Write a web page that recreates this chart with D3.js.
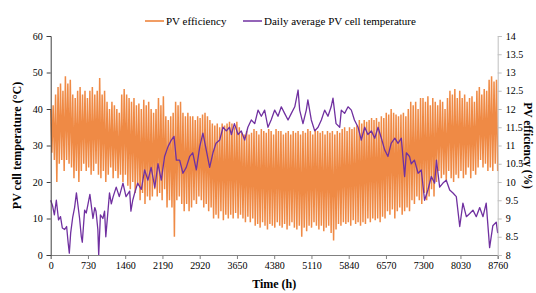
<!DOCTYPE html>
<html>
<head>
<meta charset="utf-8">
<script src="https://cdn.jsdelivr.net/npm/d3@7"></script>
<style>
  body { margin: 0; background: #fff; }
  text { font-family: "Liberation Serif", "Times New Roman", serif; }
</style>
</head>
<body>
<div id="chart"></div>
<script>
// x ticks (hours)
var timeTicks = [0, 730, 1460, 2190, 2920, 3650, 4380, 5110, 5840, 6570, 7300, 8030, 8760];
var tempTicks = [0, 10, 20, 30, 40, 50, 60];
var effTicks = [8, 8.5, 9, 9.5, 10, 10.5, 11, 11.5, 12, 12.5, 13, 13.5, 14];

// PV efficiency, read as one high/low swing per sample, every 2 days (day 0, 2, ... 364)
var effHigh = [12.0,12.1,12.4,12.6,12.7,12.5,12.9,12.7,12.8,12.4,12.3,12.5,12.6,12.4,12.5,12.3,12.5,12.6,12.4,12.5,
  12.85,12.4,12.5,12.2,12.0,12.2,12.1,12.0,11.9,12.4,12.55,12.4,12.3,12.2,12.3,12.1,12.15,12.0,12.25,12.1,
  12.2,12.0,11.9,12.0,12.3,12.1,12.35,11.8,11.7,11.8,11.9,12.2,12.1,12.2,11.9,11.8,11.9,11.8,11.8,11.7,
  11.8,11.75,11.85,11.9,11.8,11.7,11.6,11.55,11.6,11.5,11.6,11.55,11.6,11.65,11.6,11.5,11.65,11.5,11.35,11.3,
  11.4,11.3,11.35,11.45,11.4,11.3,11.45,11.4,11.35,11.45,11.4,11.3,11.45,11.4,11.4,11.3,11.35,11.4,11.3,11.4,
  11.35,11.4,11.3,11.4,11.35,11.45,11.4,11.3,11.45,11.4,11.35,11.4,11.3,11.4,11.35,11.4,11.3,11.4,11.35,11.45,
  11.5,11.4,11.5,11.45,11.5,11.55,11.7,11.6,11.7,11.65,11.7,11.75,11.7,11.75,11.65,11.8,11.75,11.9,11.85,12.0,
  11.9,11.85,11.8,11.85,11.9,11.8,12.0,12.2,12.1,12.2,12.0,12.3,12.3,12.2,12.35,12.1,12.3,12.2,12.1,12.25,
  12.2,12.0,12.3,12.5,12.4,12.55,12.3,12.5,12.3,12.4,12.2,12.3,12.35,12.2,12.5,12.6,12.4,12.55,12.5,12.8,
  12.9,12.75,12.8];
var effLow = [10.8,10.6,10.0,10.5,10.6,10.3,10.6,10.5,10.4,10.1,10.3,10.0,10.3,10.5,10.3,10.4,10.2,10.3,10.5,10.2,
  10.1,10.3,10.0,10.2,10.4,10.1,10.3,10.1,10.2,10.0,10.2,9.9,9.8,10.0,9.7,9.9,9.5,9.7,9.4,9.6,
  9.5,9.6,9.8,9.6,9.7,9.5,9.8,9.3,9.5,9.3,8.5,9.5,9.6,9.4,9.2,9.4,9.2,9.3,9.5,9.4,
  9.6,9.5,9.3,9.4,9.2,9.3,9.0,9.1,9.0,9.2,8.95,9.1,9.0,9.1,9.0,9.15,9.0,9.1,9.0,8.9,
  9.05,8.9,9.0,8.8,8.85,8.75,8.9,8.8,8.7,8.85,8.8,8.75,8.9,8.8,8.75,8.85,8.7,8.8,8.9,8.75,
  8.7,8.8,8.5,8.75,8.65,8.8,8.75,8.9,8.8,8.7,8.8,8.65,8.75,8.8,8.6,8.4,8.7,8.85,8.8,8.9,
  8.85,8.9,8.8,8.95,8.85,8.9,8.8,8.9,8.85,9.0,8.9,9.0,8.95,9.0,8.9,9.05,9.0,9.2,9.1,9.25,
  9.0,9.2,9.3,9.1,9.2,9.3,9.2,9.5,9.4,9.6,9.5,9.4,9.7,9.5,9.6,9.8,9.6,10.0,10.3,10.1,
  10.2,10.0,10.3,10.1,10.0,10.2,10.1,10.3,10.1,10.2,10.4,10.1,10.3,10.2,10.4,10.6,10.4,10.5,10.3,10.4,
  10.3,10.5,10.3];

// daily average PV cell temperature (day of year, degC)
var tempDays = [0,1.5,3,4.6,6.4,8,9.5,11.4,13,14.2,15.2,16.3,18,19.5,21,22.3,23.6,25,25.8,27.7,
  29,30.5,32,34.5,36,37,38.5,39.2,40.6,42.6,44,45,46.5,48,49.5,51,53.5,56,59,61.5,
  64.5,65.5,67,68.6,71,74,76.7,79.4,82,85,87.6,90.3,93,95.8,98.5,100.7,102.6,105.3,108,110.7,
  113.5,116,118.9,121.7,124.3,127,129.8,132.5,135,138,140.7,143.4,146,147.5,150,153,155.6,158.4,161,163.8,
  166.6,169.3,172,174.7,177.4,180,182.9,185.6,188.3,191,193.8,196.5,199.3,202,203.3,206,208.7,210,212.8,215.6,
  218.3,221,223.7,226.4,229,230.5,233,236,237.3,240,242.8,245.5,248,251,253.6,256.4,259,261.8,264.6,267.3,
  270,272.7,275.4,278,281,283.6,286.3,289,290.4,293,294.4,297,300,302.6,305.3,308,310.8,313.5,315,317.6,
  320.3,323,325.8,328.5,331.2,334,336.6,339.4,342,344.8,347.5,350.3,353,355.6,357.5,358.4,361,363.8,365];
var tempVals = [15,13.5,11,15,9.6,10.5,7.4,7,7.8,3.5,0.5,6,10.4,13,17,13.5,10,5,3.5,12.3,
  11.5,14,16.6,10,13,12,7,0,11,10,12,5,11,17,14,16,18.6,16,19.7,16,
  17.5,12,15,17,19.7,18,23.3,20.5,24,18.5,25,20.5,27,29.7,31.5,32.5,26,26,22.4,24,
  27,28,23.3,29.7,33.4,28.8,24,28,30.6,31.5,35,34,35,33,36,33,34,31.5,35,37,
  36,39.7,38,39.7,35,37,39.7,38,40.6,38.8,37,38.8,40.6,45.2,39.7,36,39.7,42.5,37,34,
  35,37,39.7,38,40.6,43,36,35,39.7,38.8,40.6,39.7,37,35,31.5,35,33,34,32,35,
  32,28.8,27,30.6,32,30.6,32,21.5,28,27,25,26,22.4,23.3,15,17.8,21.5,19.7,26,18.6,
  19.7,20.5,17.8,17,16,7.8,14.2,10.5,11.3,12.3,10.5,13,10.5,14.2,6,2,8,9,6];

var W = 536, H = 293;
var margin = {top: 36, right: 38.3, bottom: 38, left: 50.7};
var width = W - margin.left - margin.right;
var height = H - margin.top - margin.bottom;

var svg = d3.select("#chart").append("svg")
  .attr("width", W)
  .attr("height", H);

var g = svg.append("g")
  .attr("transform", "translate(" + margin.left + "," + margin.top + ")");

var x = d3.scaleLinear().domain([0, 8760]).range([0, width]);
var yT = d3.scaleLinear().domain([0, 60]).range([height, 0]);
var yE = d3.scaleLinear().domain([8, 14]).range([height, 0]);

// efficiency swings: high at start of each sample, low half way
var effPts = [];
effHigh.forEach(function(v, i) {
  var h0 = i * 48;
  effPts.push([h0, v]);
  effPts.push([h0 + 24, effLow[i]]);
});

var effLine = d3.line()
  .x(function(d) { return x(d[0]); })
  .y(function(d) { return yE(d[1]); });

g.append("path")
  .datum(effPts)
  .attr("d", effLine)
  .attr("fill", "none")
  .attr("stroke", "#ED7D31")
  .attr("stroke-opacity", 0.9)
  .attr("stroke-width", 1.5);

var tempLine = d3.line()
  .x(function(d, i) { return x(tempDays[i] * 24); })
  .y(function(d) { return yT(d); });

g.append("path")
  .datum(tempVals)
  .attr("d", tempLine)
  .attr("fill", "none")
  .attr("stroke", "#7030A0")
  .attr("stroke-width", 1.3)
  .attr("stroke-linejoin", "round");

// axes
var xAxis = g.append("g")
  .attr("transform", "translate(0," + height + ")")
  .call(d3.axisBottom(x).tickValues(timeTicks).tickFormat(d3.format("d")).tickSize(4).tickPadding(3));

var leftAxis = g.append("g")
  .call(d3.axisLeft(yT).tickValues(tempTicks).tickSize(4).tickPadding(4));

var rightAxis = g.append("g")
  .attr("transform", "translate(" + width + ",0)")
  .call(d3.axisRight(yE).tickValues(effTicks).tickFormat(d3.format("")).tickSize(4).tickPadding(4));

[xAxis, leftAxis, rightAxis].forEach(function(a) {
  a.attr("font-family", null).attr("font-size", null);
  a.selectAll("text")
    .style("font-family", "'Liberation Serif', serif")
    .style("font-size", "10px")
    .attr("fill", "#000");
});
xAxis.select(".domain").attr("stroke", "#808080");
xAxis.selectAll(".tick line").attr("stroke", "#808080");
leftAxis.select(".domain").attr("stroke", "#404040");
leftAxis.selectAll(".tick line").attr("stroke", "#404040");
rightAxis.select(".domain").attr("stroke", "#bfbfbf");
rightAxis.selectAll(".tick line").attr("stroke", "#bfbfbf");

// axis titles
svg.append("text")
  .attr("x", margin.left + width / 2)
  .attr("y", 288)
  .attr("text-anchor", "middle")
  .style("font-weight", "bold")
  .style("font-size", "12px")
  .text("Time (h)");

svg.append("text")
  .attr("transform", "translate(21," + (margin.top + height / 2) + ") rotate(-90)")
  .attr("text-anchor", "middle")
  .style("font-weight", "bold")
  .style("font-size", "12px")
  .text("PV cell temperature (°C)");

svg.append("text")
  .attr("transform", "translate(524," + (margin.top + height / 2) + ") rotate(90)")
  .attr("text-anchor", "middle")
  .style("font-weight", "bold")
  .style("font-size", "11.5px")
  .text("PV efficiency (%)");

// legend
var legend = [
  {name: "PV efficiency", color: "#ED7D31", x: 145},
  {name: "Daily average PV cell temperature", color: "#7030A0", x: 243}
];
var lg = svg.selectAll(".legend")
  .data(legend)
  .enter().append("g")
  .attr("class", "legend")
  .attr("transform", function(d) { return "translate(" + d.x + ",21)"; });
lg.append("line")
  .attr("x1", 0).attr("x2", 19)
  .attr("stroke", function(d) { return d.color; })
  .attr("stroke-width", 1.5);
lg.append("text")
  .attr("x", 21)
  .attr("dy", "0.33em")
  .style("font-size", "11px")
  .text(function(d) { return d.name; });
</script>
</body>
</html>
